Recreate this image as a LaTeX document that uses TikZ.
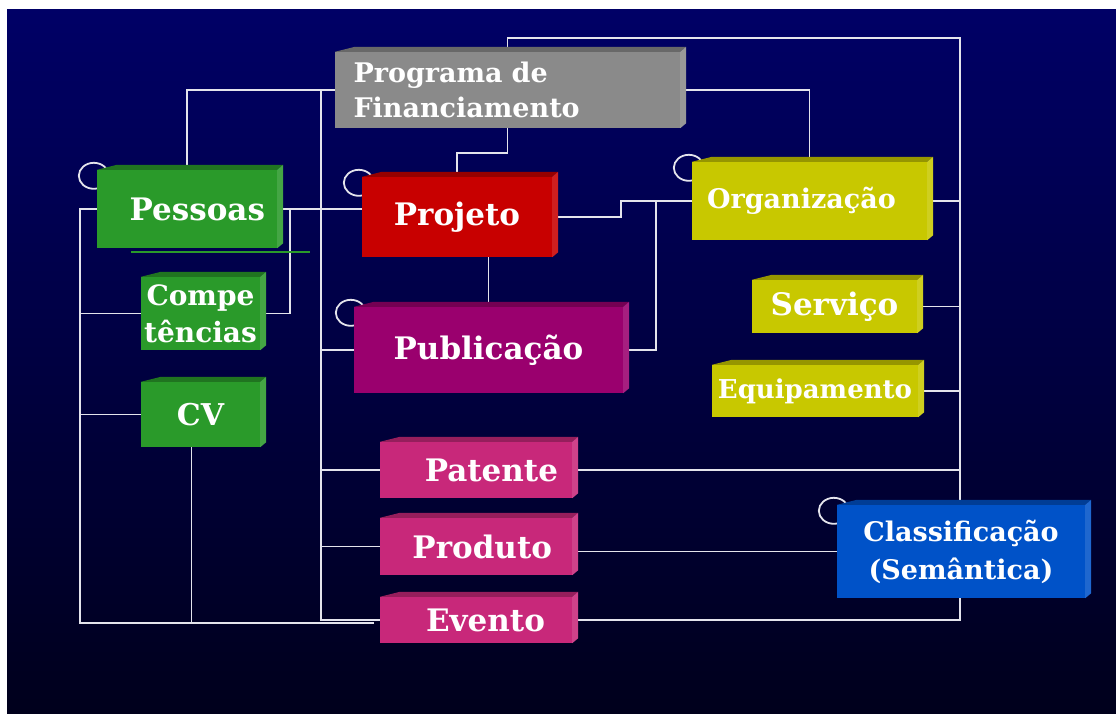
\documentclass[tikz,border=0pt]{standalone}
\usepackage{fontspec}
\setmainfont{DejaVu Serif}
\usetikzlibrary{calc}
\pgfdeclarelayer{fundo}
\pgfdeclarelayer{linhas}
\pgfsetlayers{fundo,linhas,main}
\definecolor{fundoA}{HTML}{000066}
\definecolor{fundoB}{HTML}{00001C}
\definecolor{linha}{HTML}{E4E4EC}
\definecolor{cinza}{HTML}{8A8A8A}
\definecolor{verde}{HTML}{2A9A2A}
\definecolor{vermelho}{HTML}{C80000}
\definecolor{oliva}{HTML}{C8C800}
\definecolor{roxo}{HTML}{9A006E}
\definecolor{rosa}{HTML}{C8287A}
\definecolor{azul}{HTML}{0052C8}
\newcommand{\tam}[2]{\fontsize{#1}{#2}\selectfont}
\begin{document}
\begin{tikzpicture}[x=1pt, y=-1pt,
    caixa/.style={fill=#1, text=white, inner sep=0pt, align=center},
    fio/.style={draw=linha, line width=1.8pt},
    alca/.style={draw=linha, line width=1.8pt}]
\useasboundingbox (0,0) rectangle (1116,713);
% fundo
\begin{pgfonlayer}{fundo}
  \shade[top color=fundoA, bottom color=fundoB] (7,9) rectangle (1116,713);
\end{pgfonlayer}
% caixas
\node[caixa=cinza, minimum width=345, minimum height=76, text width=308, align=left,
  font=\bfseries\tam{27}{35}] (prog) at (507.5,90) {Programa de\\Financiamento};
\node[caixa=verde, minimum width=180, minimum height=78, text width=156, align=right,
  font=\bfseries\tam{31}{34}] (pessoas) at (187,209) {Pessoas};
\node[caixa=verde, minimum width=119, minimum height=73,
  font=\bfseries\tam{28}{37}] (comp) at (200.5,313.5) {Compe\\tências};
\node[caixa=verde, minimum width=119, minimum height=65,
  font=\bfseries\tam{30}{34}] (cv) at (200.5,414.5) {CV};
\node[caixa=vermelho, minimum width=190, minimum height=80,
  font=\bfseries\tam{31}{34}] (projeto) at (457,217) {Projeto};
\node[caixa=roxo, minimum width=269, minimum height=86,
  font=\bfseries\tam{31}{34}] (pub) at (488.5,350) {Publicação};
\node[caixa=rosa, minimum width=192, minimum height=56, text width=164, align=right,
  font=\bfseries\tam{31}{34}] (patente) at (476,470) {Patente};
\node[caixa=rosa, minimum width=192, minimum height=57, text width=152, align=right,
  font=\bfseries\tam{31}{34}] (produto) at (476,546.5) {Produto};
\node[caixa=rosa, minimum width=192, minimum height=46, text width=138, align=right,
  font=\bfseries\tam{31}{34}] (evento) at (476,620) {Evento};
\node[caixa=oliva, minimum width=235, minimum height=78, text width=205, align=left,
  font=\bfseries\tam{27}{30}] (org) at (809.5,201) {Organização};
\node[caixa=oliva, minimum width=165, minimum height=53,
  font=\bfseries\tam{31}{34}] (servico) at (834.5,306.5) {Serviço};
\node[caixa=oliva, minimum width=206, minimum height=52,
  font=\bfseries\tam{26}{29}] (equip) at (815,391) {Equipamento};
\node[caixa=azul, minimum width=248, minimum height=93,
  font=\bfseries\tam{27}{38}] (classif) at (961,551.5) {Classificação\\(Semântica)};
% faces 3D
\foreach \n/\c in {prog/cinza, pessoas/verde, comp/verde, cv/verde, projeto/vermelho,
    pub/roxo, patente/rosa, produto/rosa, evento/rosa, org/oliva, servico/oliva,
    equip/oliva, classif/azul} {
  \fill[\c!75!black] (\n.north west) -- ++(20,-5) -- ([shift={(6,-5)}]\n.north east)
    -- (\n.north east) -- cycle;
  \fill[\c!88!white] (\n.north east) -- ++(6,-5) -- ([shift={(6,-5)}]\n.south east)
    -- (\n.south east) -- cycle;
}
\draw[verde, line width=1.5pt] ([shift={(34,4)}]pessoas.south west) -- ++(179,0);
% ligacoes
\coordinate (busNE) at (960,38);
\coordinate (busW) at (321,90);
\coordinate (cantoSW) at (80,623);
\coordinate (cantoSE) at (374,623);
\begin{pgfonlayer}{linhas}
  \foreach \n in {pessoas, projeto, org, pub, classif}
    \draw[alca] ([shift={(-3,6)}]\n.north west) ellipse [x radius=15pt, y radius=13pt];
  \draw[fio] (prog.north) |- (busNE) |- (evento.east);
  \foreach \n in {org, servico, equip, patente}
    \draw[fio] (\n.east) -- (\n.east -| busNE);
  \draw[fio] (prog.west) -| (pessoas.north);
  \draw[fio] (prog.east) -| (org.north);
  \draw[fio] (prog.south) -- ++(0,25) -| (projeto.north);
  \draw[fio] (busW) |- (evento.west);
  \foreach \n in {pub, patente, produto}
    \draw[fio] (\n.west) -- (\n.west -| busW);
  \draw[fio] (pessoas.east) -- (pessoas.east -| projeto.west);
  \draw[fio] ([xshift=13]pessoas.east) |- (comp.east);
  \draw[fio] (pessoas.west) -| (cantoSW) -- (cantoSE);
  \draw[fio] (comp.west) -- (comp.west -| cantoSW);
  \draw[fio] (cv.west) -- (cv.west -| cantoSW);
  \draw[fio] ([xshift=-9]cv.south) -- ([xshift=-9]cv.south |- cantoSW);
  \draw[fio] (pub.north |- projeto.south) -- (pub.north);
  \draw[fio] (projeto.east) -- ++(69,0) |- (org.west);
  \draw[fio] (pub.east) -- ++(33,0) |- (org.west);
  \draw[fio] (produto.east |- classif.west) -- (classif.west);
\end{pgfonlayer}
\end{tikzpicture}
\end{document}
